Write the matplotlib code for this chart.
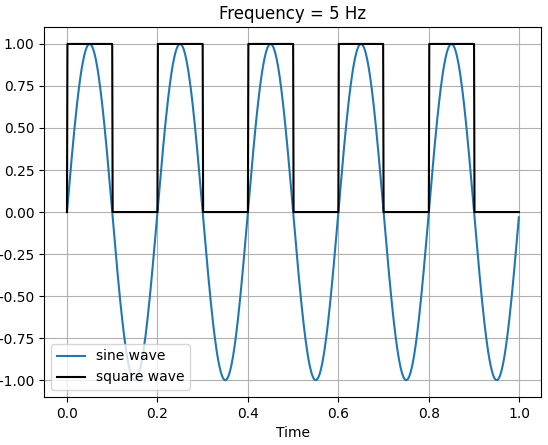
import numpy as np
from matplotlib import pyplot as plt

freq = 5  # Hz, from the title
sample_step = 0.001
t = np.arange(0, 1, sample_step)

sine = np.sin(2 * np.pi * freq * t)
square = np.where(sine > 0, 1, 0)

fig, ax = plt.subplots(figsize=(5.48, 4.45), dpi=100)
ax.plot(t, sine, label="sine wave")
ax.plot(t, square, "k", label="square wave")
ax.set_title("Frequency = %d Hz" % freq)
ax.set_xlabel("Time")
ax.grid(True)
ax.legend(loc="lower left")

fig.subplots_adjust(left=0.081, right=0.988, top=0.939, bottom=0.108)
fig.savefig("out.png", dpi=100)
